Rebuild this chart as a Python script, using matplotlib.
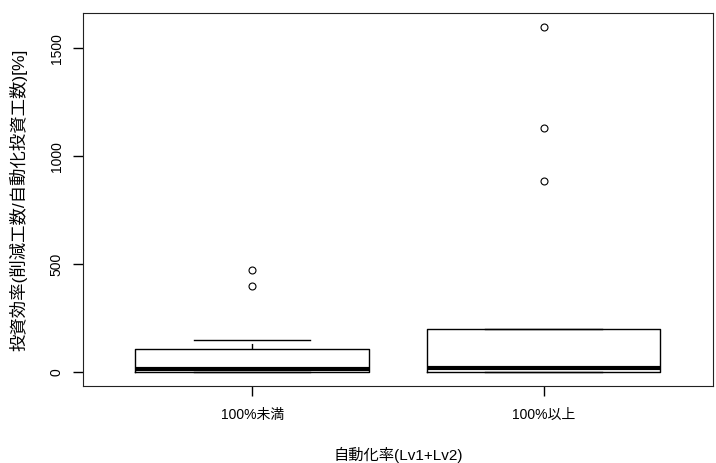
import matplotlib
matplotlib.use("Agg")
import matplotlib.pyplot as plt

plt.rcParams['font.family'] = ['Liberation Sans', 'Noto Sans CJK JP', 'DejaVu Sans']

groups = ["100%未満", "100%以上"]
q1 = [0, 3]
med = [17, 19]
q3 = [108, 198]
whisker_low = [0, 3]
whisker_high = [151, 198]
outliers = [[401, 472], [888, 1130, 1599]]

stats = []
for g, a, m, b, lo, hi, fl in zip(groups, q1, med, q3, whisker_low, whisker_high, outliers):
    stats.append({"label": g, "q1": a, "med": m, "q3": b,
                  "whislo": lo, "whishi": hi, "fliers": fl})

fig = plt.figure(figsize=(7.16, 4.63), dpi=100)
ax = fig.add_axes([0.1159, 0.1663, 0.8799, 0.8056])

ax.bxp(stats, positions=[1, 2], widths=0.8,
       boxprops=dict(color="black", linewidth=1),
       medianprops=dict(color="black", linewidth=3, solid_capstyle="butt"),
       whiskerprops=dict(color="black", linewidth=1, linestyle=(0, (4, 3))),
       capprops=dict(color="black", linewidth=1),
       flierprops=dict(marker="o", markerfacecolor="white", markeredgecolor="black",
                       markersize=5, markeredgewidth=0.8),
       capwidths=0.4)

ax.set_xlim(0.42, 2.58)
ax.set_ylim(-64, 1664)
ax.set_yticks([0, 500, 1000, 1500])
ax.set_xticks([1, 2])
ax.set_xticklabels(groups)
ax.tick_params(axis="both", direction="out", length=7, width=1, labelsize=10)
ax.tick_params(axis="x", pad=9)
ax.tick_params(axis="y", pad=7)
for lab in ax.get_yticklabels():
    lab.set_rotation(90)
    lab.set_va("center")

for s in ax.spines.values():
    s.set_color("#222222")

ax.set_xlabel("自動化率(Lv1+Lv2)", fontsize=11, labelpad=18)
ax.set_ylabel("投資効率(削減工数/自動化投資工数)[%]", fontsize=12.5, labelpad=16)

fig.savefig("out.png", dpi=100)
